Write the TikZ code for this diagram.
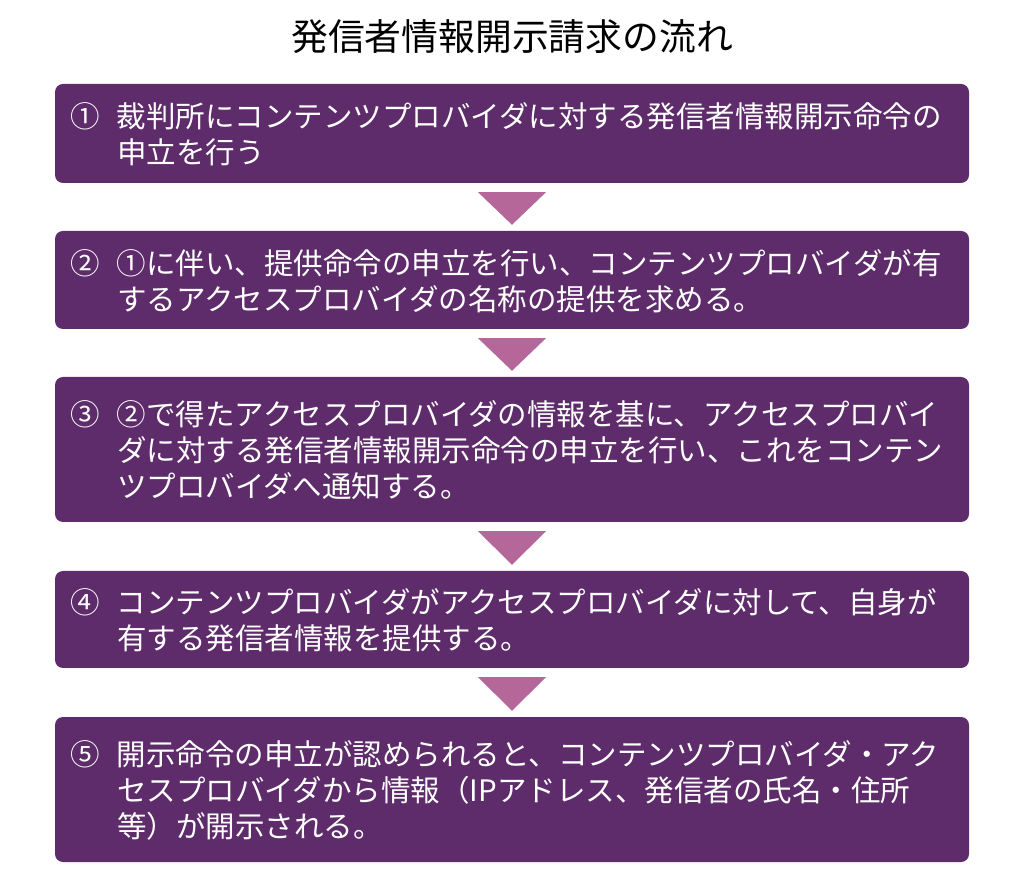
\documentclass[tikz,border=0pt]{standalone}
\usepackage{fontspec}
\setmainfont{Noto Sans CJK JP}
\usetikzlibrary{calc}
\definecolor{boxpurple}{RGB}{94,44,106}
\definecolor{tripink}{RGB}{182,103,154}
\begin{document}
\begin{tikzpicture}[x=1pt,y=1pt,
 stepbox/.style={fill=boxpurple, rounded corners=8pt, minimum width=914pt, inner sep=0pt, draw=none},
 steptext/.style={text=white, anchor=west, inner sep=0pt, font=\fontsize{29.5}{36}\selectfont},
 tri/.style={fill=tripink}]
\useasboundingbox (0,0) rectangle (1024,894);
\node[font=\fontsize{36.8}{44}\selectfont, inner sep=0pt] (title) at (512,857) {発信者情報開示請求の流れ};
\node[stepbox, minimum height=99pt] (b1) at (512,760.5) {};
\node[stepbox, minimum height=98pt] (b2) at (512,614) {};
\node[stepbox, minimum height=145pt] (b3) at (512,444.5) {};
\node[stepbox, minimum height=97pt] (b4) at (512,274.5) {};
\node[stepbox, minimum height=145pt] (b5) at (512,104.5) {};
\node[steptext] (t1) at ($(b1.west)+(15,-5)$) {\begin{tabular}{@{}p{47pt}@{}l@{}}①&裁判所にコンテンツプロバイダに対する発信者情報開示命令の\\&申立を行う\end{tabular}};
\node[steptext] (t2) at ($(b2.west)+(15,-5)$) {\begin{tabular}{@{}p{47pt}@{}l@{}}②&①に伴い、提供命令の申立を行い、コンテンツプロバイダが有\\&するアクセスプロバイダの名称の提供を求める。\end{tabular}};
\node[steptext] (t3) at ($(b3.west)+(15,-5)$) {\begin{tabular}{@{}p{47pt}@{}l@{}}③&②で得たアクセスプロバイダの情報を基に、アクセスプロバイ\\&ダに対する発信者情報開示命令の申立を行い、これをコンテン\\&ツプロバイダへ通知する。\end{tabular}};
\node[steptext] (t4) at ($(b4.west)+(15,-5)$) {\begin{tabular}{@{}p{47pt}@{}l@{}}④&コンテンツプロバイダがアクセスプロバイダに対して、自身が\\&有する発信者情報を提供する。\end{tabular}};
\node[steptext] (t5) at ($(b5.west)+(15,-5)$) {\begin{tabular}{@{}p{47pt}@{}l@{}}⑤&開示命令の申立が認められると、コンテンツプロバイダ・アク\\&セスプロバイダから情報（IPアドレス、発信者の氏名・住所\\&等）が開示される。\end{tabular}};
\fill[tri] ($(b1.south)+(-34,-9)$) -- ($(b1.south)+(34,-9)$) -- ($(b2.north)+(0,6)$) -- cycle;
\fill[tri] ($(b2.south)+(-34,-9)$) -- ($(b2.south)+(34,-9)$) -- ($(b3.north)+(0,6)$) -- cycle;
\fill[tri] ($(b3.south)+(-34,-9)$) -- ($(b3.south)+(34,-9)$) -- ($(b4.north)+(0,6)$) -- cycle;
\fill[tri] ($(b4.south)+(-34,-9)$) -- ($(b4.south)+(34,-9)$) -- ($(b5.north)+(0,6)$) -- cycle;
\end{tikzpicture}
\end{document}
